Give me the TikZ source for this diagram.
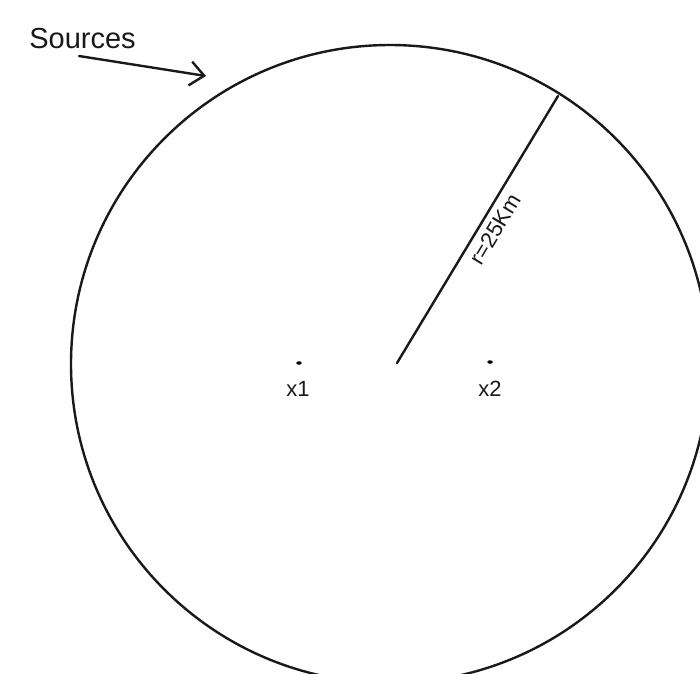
\documentclass[tikz,border=0pt]{standalone}
\usepackage{fontspec}
\setmainfont{Liberation Sans}
\usetikzlibrary{arrows.meta,shapes.geometric}
\begin{document}
\begin{tikzpicture}[x=1pt,y=-1pt,
  ink/.style={draw=black!90, line width=2.4pt},
  lbl/.style={font=\fontsize{22}{25}\selectfont, text=black!90, inner sep=0pt},
  biglbl/.style={font=\fontsize{29}{32}\selectfont, text=black!90, inner sep=0pt},
  dotmark/.style={ellipse, fill=black, minimum width=5.5pt, minimum height=3.5pt, inner sep=0pt}]
\useasboundingbox (0,0) rectangle (700,673);
\clip (0,0) rectangle (700,673);
\fill[white] (0,0) rectangle (700,673);
\coordinate (ctr) at (390,364);
\node[circle, ink, minimum size=638pt, inner sep=0pt] (disk) at (ctr) {};
% radius
\coordinate (r0) at (397,363);
\coordinate (r1) at (558,96);
\draw[ink, line cap=round] (r0) -- (r1) node[pos=0.53, sloped, below=6pt, lbl] (rl) {r=25Km};
% points
\node[dotmark] (p1) at (299,363) {};
\node[dotmark] (p2) at (490,362) {};
\node[lbl, anchor=base] (l1) at (298,396) {x1};
\node[lbl, anchor=base] (l2) at (490,396) {x2};
% sources
\node[biglbl, anchor=base] (src) at (82.5,48) {Sources};
\coordinate (a0) at (79,56);
\coordinate (a1) at (206,76);
\draw[ink, line cap=round, -{Straight Barb[length=14pt, width=24pt, line width=2.4pt]}] (a0) -- (a1);
\end{tikzpicture}
\end{document}
